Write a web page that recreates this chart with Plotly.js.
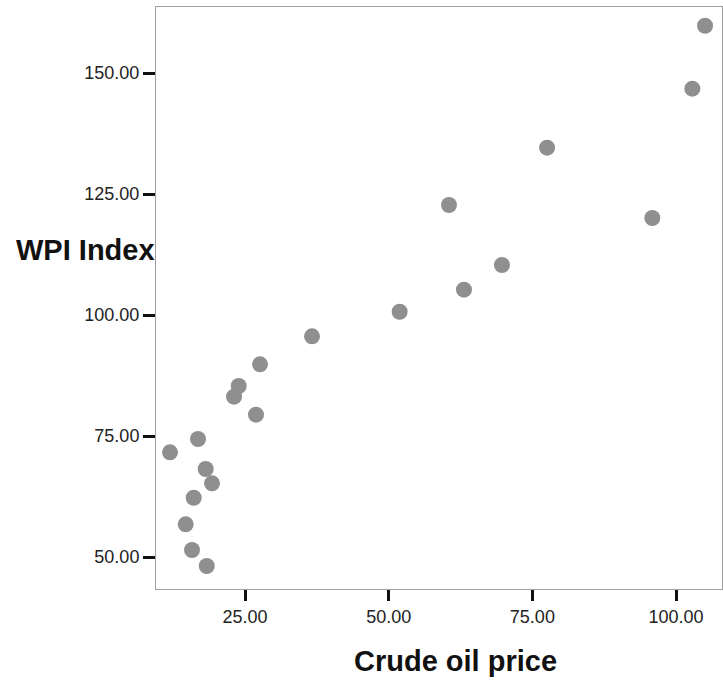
<!DOCTYPE html>
<html>
<head>
<meta charset="utf-8">
<script src="https://cdn.plot.ly/plotly-3.0.1.min.js"></script>
<style>html,body{margin:0;padding:0;background:#fff;}#chart{width:723px;height:681px;}</style>
</head>
<body>
<div id="chart"></div>
<script>
const crudeOilPrice = [27.61, 23.90, 23.09, 26.91, 16.82, 11.95, 18.16, 19.26, 16.07, 14.68, 15.78, 18.34, 36.66, 105.05, 102.84, 77.56, 60.49, 95.88, 69.71, 63.10, 51.91];
const wpiIndex = [89.81, 85.33, 83.12, 79.40, 74.38, 71.63, 68.18, 65.23, 62.25, 56.76, 51.45, 48.14, 95.6, 159.77, 146.76, 134.57, 122.73, 120.04, 110.33, 105.23, 100.68];
const xTickVals = [25, 50, 75, 100];
const yTickVals = [50, 75, 100, 125, 150];
const xTitle = 'Crude oil price';
const yTitle = 'WPI Index';

const trace = {
  x: crudeOilPrice, y: wpiIndex, type: 'scatter', mode: 'markers',
  marker: {color: '#8f8f8f', size: 16, line: {width: 0}},
  hoverinfo: 'x+y'
};

const layout = {
  width: 723, height: 681,
  margin: {l: 156, r: 1, t: 7, b: 92},
  paper_bgcolor: '#ffffff', plot_bgcolor: '#ffffff',
  font: {family: 'Liberation Sans, Arial, sans-serif', color: '#222'},
  showlegend: false,
  xaxis: {
    range: [9.51, 108.0], tickvals: xTickVals, tickformat: '.2f',
    showgrid: false, zeroline: false,
    showline: true, mirror: true, linecolor: '#a0a0a0', linewidth: 1,
    ticks: 'outside', ticklen: 11, tickwidth: 3, tickcolor: '#111',
    tickfont: {size: 18, color: '#222'}
  },
  yaxis: {
    range: [43.39, 163.64], tickvals: yTickVals, tickformat: '.2f',
    showgrid: false, zeroline: false,
    showline: true, mirror: true, linecolor: '#a0a0a0', linewidth: 1,
    ticks: 'outside', ticklen: 12, tickwidth: 3, tickcolor: '#111',
    tickfont: {size: 18, color: '#222'}, ticklabelstandoff: 0
  },
  annotations: [
    {text: '<b>' + yTitle + '</b>', xref: 'paper', yref: 'paper', x: 0, y: 0.5825,
     xanchor: 'right', yanchor: 'middle', xshift: 1, showarrow: false,
     font: {size: 29, color: '#111', family: 'Liberation Sans, Arial, sans-serif'}},
    {text: '<b>' + xTitle + '</b>', xref: 'paper', yref: 'paper', x: 0.530, y: -0.1237,
     xanchor: 'center', yanchor: 'middle', showarrow: false,
     font: {size: 29, color: '#111', family: 'Liberation Sans, Arial, sans-serif'}}
  ]
};

Plotly.newPlot('chart', [trace], layout, {displayModeBar: false, staticPlot: true});
</script>
</body>
</html>
